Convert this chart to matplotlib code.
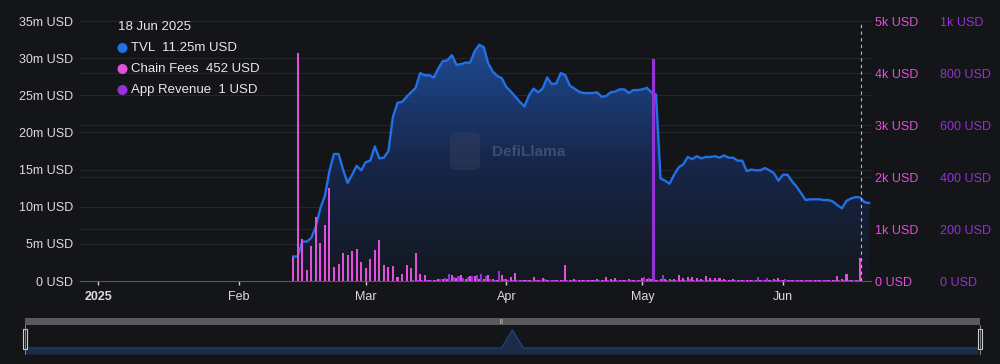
import numpy as np
import matplotlib.pyplot as plt
import matplotlib.dates as mdates
from matplotlib.colors import LinearSegmentedColormap
from matplotlib.patches import Ellipse, Rectangle, FancyBboxPatch

plt.rcParams['font.family'] = ['Liberation Sans', 'DejaVu Sans']

# daily values starting 13 Feb 2025
first_day = '2025-02-13'

# TVL, millions USD
tvl = [3.3, 3.3, 5.3, 5.3, 5.8, 7.3, 9.8, 11.5, 14.8, 17.1,
       17.1, 15.0, 13.2, 14.3, 15.5, 14.9, 16.0, 16.2, 18.1, 16.5,
       16.6, 17.5, 22.1, 24.0, 24.1, 24.8, 25.4, 26.0, 28.0, 27.7,
       27.7, 27.4, 28.6, 29.6, 29.7, 30.4, 29.1, 29.2, 29.4, 29.4,
       30.9, 31.8, 31.5, 29.3, 28.2, 27.6, 27.3, 26.1, 25.5, 24.8,
       24.1, 23.5, 25.0, 25.9, 25.4, 25.9, 27.4, 26.5, 26.6, 28.0,
       27.7, 26.3, 25.9, 25.5, 25.3, 25.3, 25.3, 25.4, 24.8, 24.9,
       25.4, 25.5, 25.8, 25.8, 25.3, 25.7, 25.7, 25.8, 26.0, 25.4,
       25.1, 13.8, 13.5, 13.1, 14.3, 15.3, 15.7, 16.7, 16.4, 16.8,
       16.5, 16.7, 16.7, 16.8, 16.6, 16.9, 16.6, 16.6, 16.2, 16.2,
       14.8, 15.0, 14.9, 14.9, 15.2, 14.9, 14.5, 13.5, 14.3, 14.3,
       13.4, 12.7, 11.8, 10.9, 11.0, 11.0, 11.0, 10.9, 10.9, 10.7,
       10.2, 9.8, 10.8, 11.1, 11.3, 11.25, 10.6, 10.5]

# chain fees, USD
chain_fees = [467, 4390, 801, 211, 673, 1237, 725, 1077, 1783, 275,
              321, 533, 506, 583, 615, 359, 256, 417, 596, 788,
              308, 275, 288, 77, 135, 308, 244, 545, 128, 109,
              26, 26, 32, 45, 45, 109, 64, 109, 45, 90,
              96, 45, 45, 109, 32, 26, 109, 45, 77, 160,
              19, 19, 26, 77, 19, 51, 19, 19, 19, 19,
              301, 26, 32, 13, 13, 13, 13, 32, 26, 77,
              45, 58, 26, 26, 45, 19, 19, 64, 32, 45,
              19, 32, 45, 45, 45, 109, 51, 83, 77, 64,
              45, 96, 64, 64, 64, 45, 26, 32, 26, 19,
              19, 13, 13, 13, 13, 13, 45, 64, 13, 13,
              13, 13, 13, 13, 13, 13, 13, 13, 19, 19,
              96, 38, 135, 26, 13, 452, 0, 0]

# app revenue, USD
app_revenue = [0, 0, 0, 0, 0, 0, 0, 0, 0, 0,
               0, 0, 0, 0, 0, 0, 0, 0, 0, 0,
               0, 0, 0, 0, 0, 0, 2, 3, 2, 4,
               3, 5, 6, 12, 28, 17, 20, 10, 17, 19,
               22, 27, 20, 8, 5, 38, 6, 4, 5, 3,
               2, 3, 2, 4, 3, 9, 2, 3, 3, 2,
               4, 3, 3, 2, 3, 3, 4, 3, 5, 4,
               3, 4, 3, 5, 4, 3, 4, 15, 12, 854,
               5, 24, 5, 4, 3, 5, 4, 6, 3, 4,
               5, 3, 4, 3, 5, 4, 3, 4, 3, 4,
               3, 3, 15, 3, 10, 3, 3, 3, 8, 3,
               2, 3, 2, 4, 3, 2, 3, 2, 3, 4,
               3, 2, 3, 3, 2, 1, 0, 0]

month_ticks = ['2025-01-01', '2025-02-01', '2025-03-01', '2025-04-01', '2025-05-01', '2025-06-01']
month_labels = ['2025', 'Feb', 'Mar', 'Apr', 'May', 'Jun']
tvl_ticks = [0, 5, 10, 15, 20, 25, 30, 35]
fee_ticks = [0, 1000, 2000, 3000, 4000, 5000]
rev_ticks = [0, 200, 400, 600, 800, 1000]

overview_dates = ['2024-12-28', '2025-03-25', '2025-03-27', '2025-03-29', '2025-06-20']
overview_vals = [1, 1, 4, 1, 1]

tooltip_day = '2025-06-18'
tooltip_rows = [('TVL', '11.25m USD'), ('Chain Fees', '452 USD'), ('App Revenue', '1 USD')]

bg = '#141518'
grid_c = '#25262b'
txt = '#dcdcdc'
blue = '#2170e6'
pink = '#e24fdc'
purple = '#9630d8'

days = np.datetime64(first_day) + np.arange(len(tvl))
x = mdates.date2num(days)
jan1 = mdates.date2num(np.datetime64('2025-01-01'))
xmin, xmax = jan1 - 4.0, jan1 + 170.4

fig = plt.figure(figsize=(10, 3.64), dpi=100)
fig.patch.set_facecolor(bg)

ax = fig.add_axes([0.080, 0.228, 0.791, 0.7143])
ax.set_facecolor(bg)

for v in tvl_ticks[1:]:
    ax.axhline(v, color=grid_c, lw=0.8, zorder=0)
for f in fee_ticks[1:]:
    ax.axhline(f / fee_ticks[-1] * tvl_ticks[-1], color=grid_c, lw=0.8, zorder=0)

# area with vertical gradient
poly = ax.fill_between(x, tvl, 0, color='none', lw=0)
cmap = LinearSegmentedColormap.from_list('tvlgrad', ['#14181f', '#17264a', '#1f4a92'])
grad = np.linspace(1, 0, 256).reshape(-1, 1)
im = ax.imshow(grad, extent=[x[0], x[-1], 0, max(tvl)], aspect='auto', cmap=cmap, zorder=1)
im.set_clip_path(poly.get_paths()[0], transform=ax.transData)
ax.plot(x, tvl, color=blue, lw=1.7, zorder=3, solid_joinstyle='round')

ax.set_xlim(xmin, xmax)
ax.set_ylim(0, tvl_ticks[-1])
ax.set_yticks(tvl_ticks)
ax.set_yticklabels(['0 USD' if v == 0 else f'{v}m USD' for v in tvl_ticks])
ax.set_xticks(mdates.date2num(np.array(month_ticks, dtype='datetime64[D]')))
ax.set_xticklabels(month_labels)
ax.get_xticklabels()[0].set_fontweight('bold')
ax.tick_params(axis='y', length=0, pad=5, labelcolor=txt, labelsize=9)
ax.tick_params(axis='x', length=3, width=1, color='#d0d0d0', pad=4, labelcolor=txt, labelsize=9)
for s in ['top', 'left', 'right']:
    ax.spines[s].set_visible(False)
ax.spines['bottom'].set_color('#5a5a5a')

ax2 = ax.twinx()
ax2.bar(x, chain_fees, width=0.45, color=pink, lw=0, zorder=2)
ax2.set_ylim(0, fee_ticks[-1])
ax2.set_yticks(fee_ticks)
ax2.set_yticklabels(['0 USD' if f == 0 else f'{f // 1000}k USD' for f in fee_ticks])
ax2.tick_params(axis='y', length=0, pad=3, labelcolor=pink, labelsize=9)

ax3 = ax.twinx()
ax3.bar(x + 0.45, app_revenue, width=0.45, color=purple, lw=0, zorder=2)
ax3.set_ylim(0, rev_ticks[-1])
ax3.set_yticks(rev_ticks)
ax3.set_yticklabels(['1k USD' if r == 1000 else f'{r} USD' for r in rev_ticks])
ax3.tick_params(axis='y', length=0, pad=50, labelcolor=purple, labelsize=9)
ax3.axvline(mdates.date2num(np.datetime64(tooltip_day)) + 0.2, color='#bbbbbb', lw=0.8, ls=(0, (3, 3)), zorder=5)
for a in (ax2, ax3):
    for s in a.spines.values():
        s.set_visible(False)
ax3.set_xlim(xmin, xmax)

# watermark
fig.patches.append(FancyBboxPatch((0.452, 0.535), 0.026, 0.10, boxstyle='round,pad=0.002,rounding_size=0.01',
                                  transform=fig.transFigure, facecolor='#34415e', edgecolor='none', alpha=0.45))
fig.text(0.492, 0.582, 'DefiLlama', fontsize=11, fontweight='bold', color='#3e4d6c', va='center')

# tooltip
fig.text(0.118, 1 - 27 / 364, np.datetime64(tooltip_day).astype(object).strftime('%d %b %Y'),
         fontsize=9.5, color='#e8e8e8', va='center')
for i, ((name, val), c) in enumerate(zip(tooltip_rows, [blue, pink, purple])):
    yy = 1 - (48 + 21 * i) / 364
    fig.patches.append(Ellipse((0.1225, yy), 10 / 1000, 10 / 364, transform=fig.transFigure,
                               facecolor=c, edgecolor='none'))
    fig.text(0.131, yy, f'{name}  {val}', fontsize=9.5, color='#e8e8e8', va='center')

# range slider
fig.patches.append(Rectangle((0.025, 1 - 325 / 364), 0.955, 7 / 364, transform=fig.transFigure,
                             facecolor='#5a5a5a', edgecolor='none'))
fig.text(0.502, 1 - 321.5 / 364, '|||', fontsize=3.5, color='#eeeeee', ha='center', va='center')
sl = fig.add_axes([0.025, 1 - 354 / 364, 0.955, 29 / 364])
sl.set_facecolor(bg)
ox = mdates.date2num(np.array(overview_dates, dtype='datetime64[D]'))
sl.fill_between(ox, overview_vals, 0, color='#1c2b46', lw=0)
sl.plot(ox, overview_vals, color='#1f4a90', lw=0.8)
sl.set_xlim(xmin, xmax)
sl.set_ylim(0, 4.83)
sl.set_xticks([])
sl.set_yticks([])
for s in sl.spines.values():
    s.set_visible(False)
for hx in (0.025, 0.980):
    fig.patches.append(Rectangle((hx - 0.002, 1 - 349 / 364), 0.004, 20 / 364, transform=fig.transFigure,
                                 facecolor=bg, edgecolor='#cccccc', lw=0.8))
    fig.lines.append(plt.Line2D([hx, hx], [1 - 354 / 364, 1 - 325 / 364], transform=fig.transFigure,
                                color='#999999', lw=0.6))

fig.savefig('out.png', dpi=100, facecolor=bg)
